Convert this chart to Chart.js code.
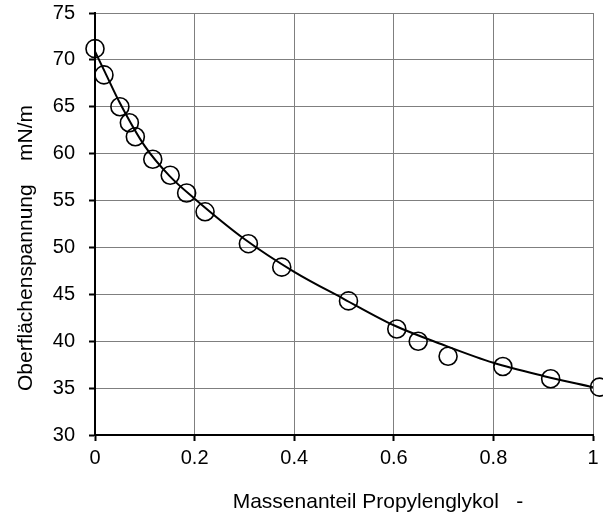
<!DOCTYPE html>
<html>
<head>
<meta charset="utf-8">
<script src="https://cdn.jsdelivr.net/npm/chart.js@4.4.0/dist/chart.umd.min.js"></script>
<style>
  html, body { margin: 0; padding: 0; background: #fff; }
  #wrap { width: 603px; height: 517px; }
</style>
</head>
<body>
<div id="wrap"><canvas id="c" width="603" height="517"></canvas></div>
<script>
// Measured data points (mass fraction propylene glycol, surface tension mN/m)
const massFraction = [0, 0.018, 0.05, 0.069, 0.081, 0.116, 0.151, 0.184, 0.221, 0.308, 0.375, 0.509, 0.606, 0.649, 0.709, 0.819, 0.915, 1.013];
const surfaceTension = [71.2, 68.4, 65.0, 63.3, 61.8, 59.4, 57.7, 55.8, 53.8, 50.4, 47.9, 44.3, 41.3, 40.0, 38.4, 37.3, 36.0, 35.1];

// Fitted curve
const curveX = [0, 0.02, 0.05, 0.1, 0.15, 0.2, 0.3, 0.4, 0.5, 0.6, 0.7, 0.8, 0.9, 1.0];
const curveY = [70.9, 68.7, 65.4, 60.8, 57.6, 55.2, 50.9, 47.4, 44.5, 41.7, 39.6, 37.7, 36.3, 35.1];

const xTickLabels = ['0', '0.2', '0.4', '0.6', '0.8', '1'];
const yTickLabels = ['30', '35', '40', '45', '50', '55', '60', '65', '70', '75'];

const xTitle = 'Massenanteil Propylenglykol   -';
const yTitle = 'Oberflächenspannung    mN/m';

const FONT = 'Liberation Sans, Arial, sans-serif';

const axisTitlePlugin = {
  id: 'axisTitlePlugin',
  afterDraw(chart) {
    const ctx = chart.ctx;
    const sx = chart.scales.x;
    const sy = chart.scales.y;
    ctx.save();
    ctx.font = '21px ' + FONT;
    ctx.fillStyle = '#000';
    ctx.textAlign = 'center';
    ctx.textBaseline = 'middle';
    ctx.fillText(xTitle, (sx.left + sx.right) / 2 + 34, 502);
    ctx.translate(26, (sy.top + sy.bottom) / 2 + 24);
    ctx.rotate(-Math.PI / 2);
    ctx.fillText(yTitle, 0, 0);
    ctx.restore();
  }
};

new Chart(document.getElementById('c'), {
  type: 'scatter',
  data: {
    datasets: [
      {
        label: 'Fit',
        type: 'line',
        data: curveX.map((x, i) => ({ x: x, y: curveY[i] })),
        borderColor: '#000',
        borderWidth: 2,
        pointRadius: 0,
        fill: false,
        cubicInterpolationMode: 'monotone',
        order: 2
      },
      {
        label: 'Messwerte',
        data: massFraction.map((x, i) => ({ x: x, y: surfaceTension[i] })),
        pointStyle: 'circle',
        pointRadius: 9,
        pointBorderWidth: 1.6,
        pointBorderColor: '#000',
        pointBackgroundColor: 'rgba(0,0,0,0)',
        showLine: false,
        clip: false,
        order: 1
      }
    ]
  },
  options: {
    responsive: false,
    animation: false,
    devicePixelRatio: 1,
    layout: { autoPadding: false, padding: { top: 13, right: 10, left: 0, bottom: 0 } },
    plugins: {
      legend: { display: false },
      tooltip: { enabled: false }
    },
    scales: {
      x: {
        type: 'linear',
        min: 0,
        max: 1,
        afterBuildTicks(scale) {
          scale.ticks = xTickLabels.map(v => ({ value: parseFloat(v) }));
        },
        afterFit(scale) {
          scale.height = 82;
          scale.paddingLeft = 0;
          scale.paddingRight = 0;
        },
        ticks: {
          color: '#000',
          font: { family: FONT, size: 20 },
          padding: 5,
          maxRotation: 0,
          callback: (v, i) => xTickLabels[i]
        },
        grid: {
          color: '#7f7f7f',
          lineWidth: 1,
          tickLength: 6,
          tickColor: '#000',
          tickWidth: 2
        },
        border: { color: '#000', width: 2 },
        title: { display: false }
      },
      y: {
        type: 'linear',
        min: 30,
        max: 75,
        afterBuildTicks(scale) {
          scale.ticks = yTickLabels.map(v => ({ value: parseFloat(v) }));
        },
        afterFit(scale) {
          scale.width = 95;
          scale.paddingTop = 0;
          scale.paddingBottom = 0;
        },
        ticks: {
          color: '#000',
          font: { family: FONT, size: 20 },
          padding: 14,
          callback: (v, i) => yTickLabels[i]
        },
        grid: {
          color: '#7f7f7f',
          lineWidth: 1,
          tickLength: 6,
          tickColor: '#000',
          tickWidth: 2
        },
        border: { color: '#000', width: 2 },
        title: { display: false }
      }
    }
  },
  plugins: [axisTitlePlugin]
});
</script>
</body>
</html>
